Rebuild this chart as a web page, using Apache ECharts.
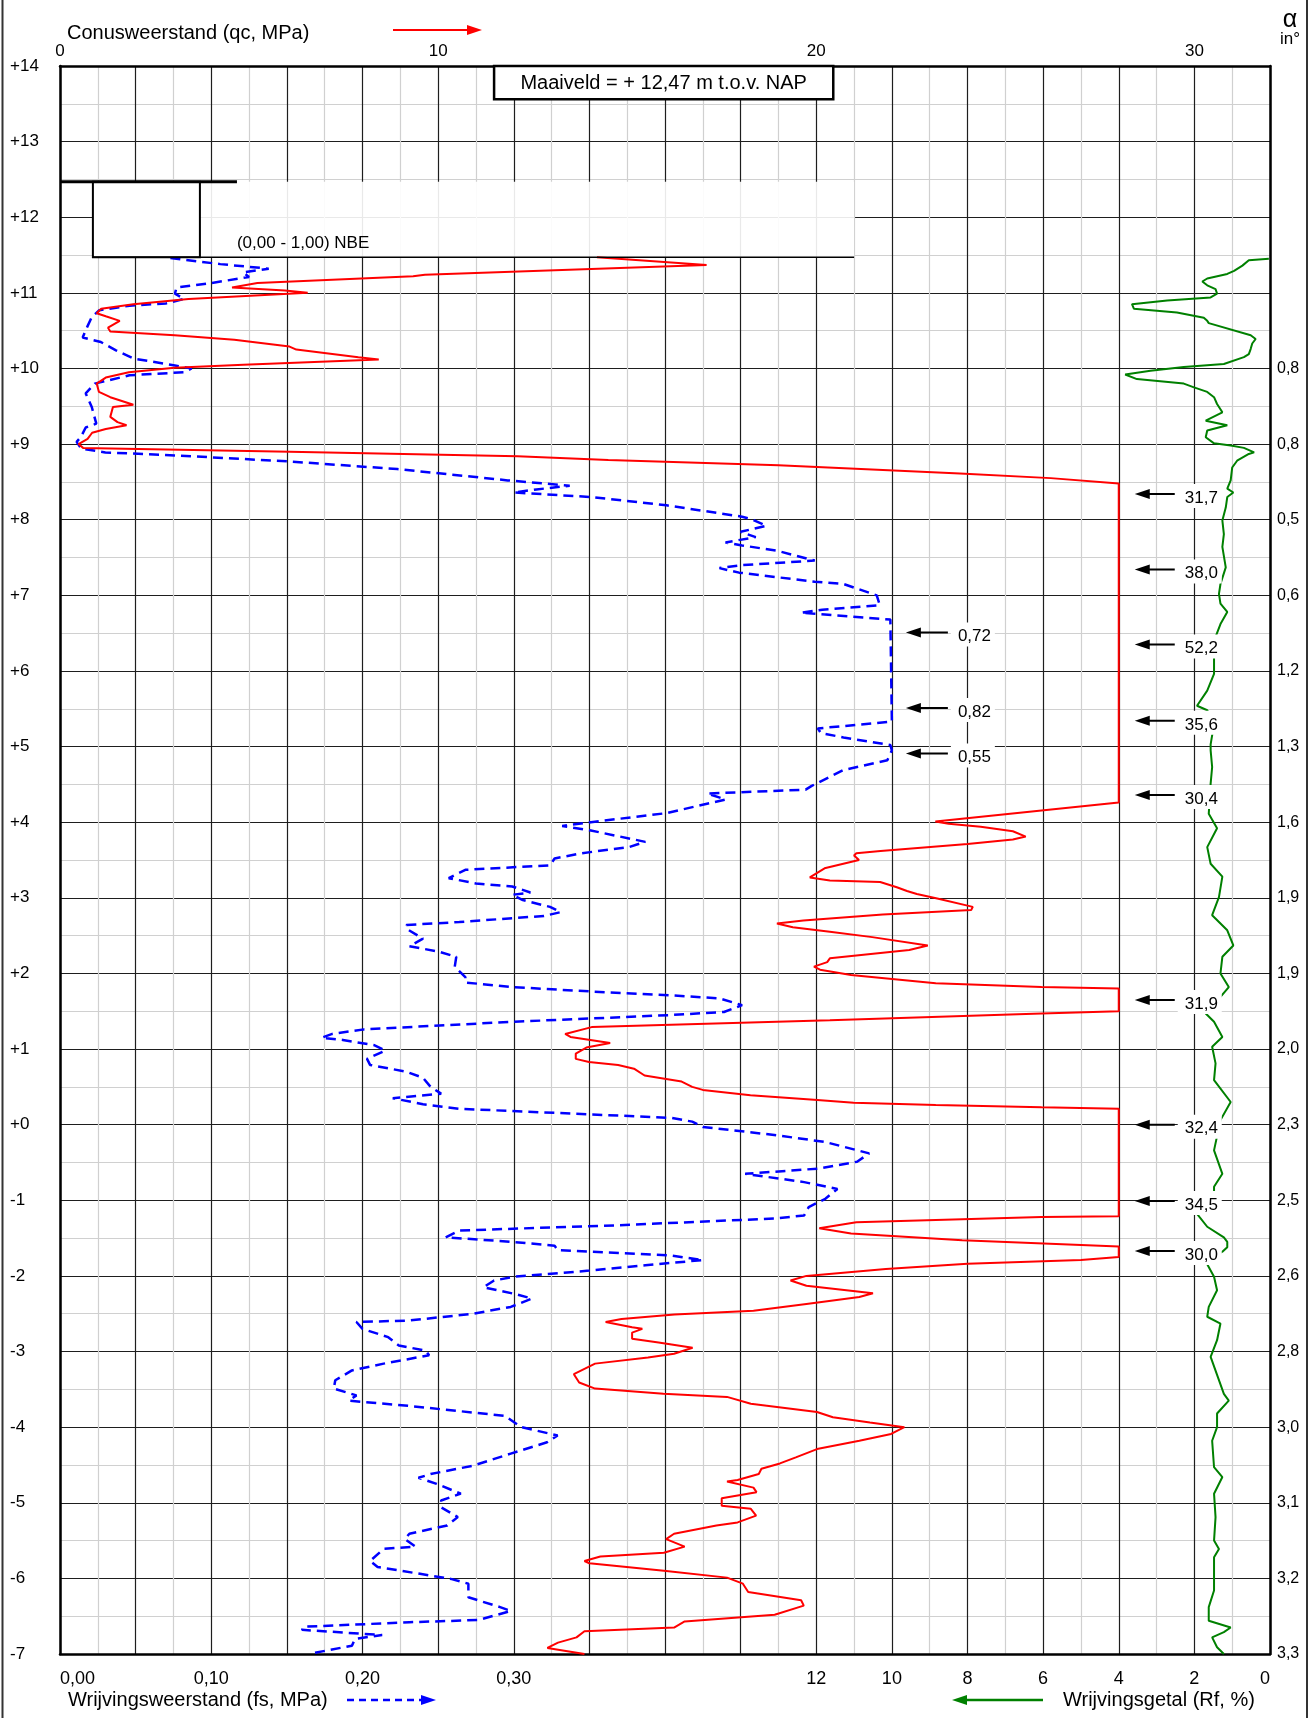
<!DOCTYPE html>
<html>
<head>
<meta charset="utf-8">
<title>Sondering</title>
<script src="https://cdn.jsdelivr.net/npm/echarts@6/dist/echarts.min.js"></script>
<style>
  html, body { margin: 0; padding: 0; background: #fff; }
  #chart { width: 1311px; height: 1718px; }
</style>
</head>
<body>
<div id="chart"></div>
<script>
// ---- Cone penetration test data: [value, elevation in m NAP] ----

// Cone resistance qc (MPa); values above 28 are drawn at the 28 MPa cap
const qcProfile = [
  [14.2,11.47],[17.1,11.37],[9.65,11.24],[9.34,11.22],[5.22,11.13],[4.55,11.07],[5.95,11.03],[6.55,11.0],
  [3.40,10.92],[1.94,10.85],[1.09,10.79],[0.97,10.73],[1.21,10.69],[1.58,10.63],[1.27,10.54],[1.33,10.49],
  [3.03,10.44],[4.61,10.38],[6.07,10.29],[6.25,10.25],[7.89,10.15],[8.43,10.12],[4.85,10.05],[3.03,10.01],
  [1.82,9.95],[1.21,9.88],[0.97,9.80],[1.03,9.69],[1.33,9.62],[1.94,9.52],[1.40,9.49],[1.33,9.36],
  [1.52,9.29],[1.76,9.25],[1.21,9.20],[0.85,9.15],[0.73,9.07],[0.49,9.00],[0.61,8.95],[6.07,8.90],
  [12.1,8.84],[14.5,8.79],[19.0,8.72],[23.8,8.61],[26.2,8.55],[28,8.48],[28,4.26],[23.15,4.01],
  [23.5,3.98],[24.35,3.94],[25.2,3.88],[25.54,3.81],[25.2,3.77],[24.0,3.71],[21.7,3.62],[21.06,3.59],
  [21.0,3.56],[21.13,3.50],[20.22,3.39],[19.83,3.27],[20.36,3.23],[21.69,3.21],[22.13,3.14],[22.4,3.09],
  [22.66,3.05],[23.2,2.99],[24.14,2.88],[24.1,2.84],[21.76,2.78],[19.66,2.70],[18.96,2.66],[19.38,2.61],
  [20.36,2.55],[21.48,2.48],[22.95,2.37],[22.46,2.31],[20.36,2.20],[20.29,2.15],[19.94,2.09],[20.1,2.05],
  [20.92,1.98],[23.16,1.87],[25.96,1.82],[28,1.80],[28,1.50],[25.96,1.47],[20.36,1.38],[14.06,1.29],
  [13.36,1.20],[13.5,1.16],[14.55,1.08],[13.92,1.02],[13.64,0.94],[13.64,0.87],[13.99,0.83],[14.76,0.79],
  [15.18,0.74],[15.46,0.65],[16.44,0.57],[16.72,0.50],[17.0,0.46],[18.26,0.39],[19.94,0.33],[20.99,0.29],
  [23.16,0.26],[25.96,0.23],[28,0.21],[28,-1.21],[25.96,-1.22],[21.06,-1.29],[20.08,-1.37],[20.92,-1.44],
  [23.86,-1.53],[28,-1.61],[28,-1.75],[27.0,-1.79],[24.0,-1.84],[21.84,-1.91],[19.74,-2.0],[19.32,-2.06],
  [19.74,-2.13],[21.5,-2.23],[21.14,-2.28],[19.74,-2.37],[18.34,-2.46],[16.25,-2.51],[14.85,-2.57],[14.43,-2.61],
  [15.13,-2.68],[15.40,-2.70],[15.13,-2.75],[15.13,-2.83],[15.83,-2.88],[16.73,-2.95],[16.24,-3.03],[15.55,-3.08],
  [14.15,-3.16],[13.59,-3.30],[13.73,-3.41],[14.15,-3.49],[15.96,-3.56],[17.64,-3.60],[18.27,-3.69],[20.02,-3.80],
  [20.44,-3.87],[21.42,-3.94],[22.33,-4.0],[21.98,-4.09],[21.14,-4.18],[20.02,-4.29],[19.46,-4.40],[19.04,-4.48],
  [18.55,-4.55],[18.48,-4.62],[17.92,-4.70],[17.64,-4.72],[18.34,-4.80],[18.42,-4.86],[17.50,-4.94],[17.50,-5.04],
  [18.27,-5.08],[18.41,-5.17],[17.92,-5.26],[17.36,-5.30],[16.24,-5.41],[16.03,-5.48],[16.52,-5.58],[15.97,-5.66],
  [14.29,-5.71],[13.87,-5.77],[14.0,-5.80],[15.97,-5.90],[17.64,-5.99],[18.06,-6.07],[18.20,-6.18],[19.60,-6.29],
  [19.67,-6.36],[18.90,-6.48],[16.52,-6.57],[16.24,-6.65],[13.87,-6.70],[13.66,-6.78],[13.17,-6.85],[12.89,-6.92],
  [13.87,-7.0]
];

// Sleeve friction fs (MPa); values above 0.55 are drawn at the 0.55 MPa cap
const fsProfile = [
  [0.073,11.46],[0.106,11.38],[0.138,11.32],[0.121,11.27],[0.125,11.21],[0.100,11.13],[0.077,11.07],[0.076,10.99],
  [0.082,10.92],[0.070,10.86],[0.046,10.83],[0.026,10.77],[0.021,10.68],[0.018,10.55],[0.015,10.41],[0.027,10.35],
  [0.037,10.24],[0.049,10.13],[0.076,10.04],[0.087,10.0],[0.082,9.95],[0.046,9.91],[0.023,9.80],[0.017,9.67],
  [0.021,9.49],[0.024,9.27],[0.017,9.22],[0.014,9.10],[0.011,9.03],[0.014,8.94],[0.030,8.89],[0.076,8.85],
  [0.152,8.77],[0.223,8.67],[0.296,8.52],[0.337,8.45],[0.315,8.40],[0.300,8.36],[0.351,8.30],[0.401,8.19],
  [0.451,8.04],[0.458,8.0],[0.467,7.92],[0.450,7.84],[0.460,7.77],[0.440,7.70],[0.451,7.66],[0.474,7.59],
  [0.499,7.46],[0.451,7.40],[0.436,7.36],[0.449,7.30],[0.499,7.18],[0.518,7.15],[0.540,7.0],[0.542,6.87],
  [0.504,6.81],[0.490,6.77],[0.549,6.68],[0.550,6.68],[0.550,5.33],[0.501,5.24],[0.503,5.18],[0.518,5.12],
  [0.549,5.02],[0.550,4.95],[0.547,4.82],[0.518,4.69],[0.507,4.58],[0.497,4.48],[0.493,4.43],[0.428,4.38],
  [0.440,4.30],[0.401,4.12],[0.351,4.0],[0.332,3.95],[0.351,3.89],[0.387,3.74],[0.376,3.67],[0.345,3.59],
  [0.327,3.52],[0.324,3.43],[0.268,3.37],[0.257,3.26],[0.275,3.19],[0.299,3.15],[0.311,3.07],[0.299,3.04],
  [0.306,2.97],[0.324,2.88],[0.331,2.81],[0.320,2.76],[0.264,2.68],[0.229,2.64],[0.230,2.58],[0.240,2.46],
  [0.231,2.36],[0.250,2.29],[0.262,2.22],[0.261,2.09],[0.268,1.95],[0.268,1.88],[0.299,1.82],[0.352,1.76],
  [0.404,1.71],[0.436,1.67],[0.451,1.58],[0.439,1.49],[0.404,1.45],[0.299,1.36],[0.201,1.26],[0.180,1.20],
  [0.173,1.15],[0.187,1.12],[0.208,1.05],[0.215,0.98],[0.203,0.87],[0.205,0.79],[0.229,0.70],[0.240,0.62],
  [0.245,0.50],[0.252,0.41],[0.220,0.35],[0.240,0.27],[0.264,0.21],[0.334,0.15],[0.404,0.09],[0.418,0.04],
  [0.425,-0.03],[0.474,-0.14],[0.506,-0.23],[0.535,-0.38],[0.527,-0.49],[0.502,-0.58],[0.453,-0.65],[0.492,-0.76],
  [0.514,-0.85],[0.506,-0.98],[0.495,-1.09],[0.492,-1.20],[0.474,-1.24],[0.369,-1.33],[0.264,-1.40],[0.255,-1.49],
  [0.299,-1.55],[0.327,-1.60],[0.329,-1.66],[0.404,-1.73],[0.425,-1.79],[0.387,-1.86],[0.350,-1.93],[0.301,-2.01],
  [0.287,-2.06],[0.280,-2.15],[0.301,-2.24],[0.312,-2.30],[0.298,-2.41],[0.273,-2.50],[0.231,-2.59],[0.196,-2.61],
  [0.200,-2.70],[0.217,-2.81],[0.224,-2.92],[0.242,-2.99],[0.244,-3.05],[0.214,-3.16],[0.193,-3.25],[0.182,-3.38],
  [0.181,-3.49],[0.196,-3.58],[0.191,-3.65],[0.231,-3.72],[0.294,-3.85],[0.305,-4.0],[0.329,-4.11],[0.322,-4.20],
  [0.298,-4.35],[0.273,-4.51],[0.245,-4.62],[0.237,-4.67],[0.249,-4.75],[0.265,-4.88],[0.252,-4.97],[0.252,-5.06],
  [0.263,-5.19],[0.256,-5.30],[0.231,-5.41],[0.228,-5.48],[0.235,-5.58],[0.214,-5.61],[0.205,-5.77],[0.210,-5.85],
  [0.238,-5.94],[0.259,-6.01],[0.270,-6.07],[0.270,-6.25],[0.291,-6.38],[0.298,-6.43],[0.277,-6.55],[0.231,-6.58],
  [0.161,-6.64],[0.160,-6.68],[0.213,-6.75],[0.195,-6.80],[0.193,-6.89],[0.167,-6.99]
];

// Friction ratio Rf (%)
const rfProfile = [
  [0.03,11.45],[0.56,11.43],[0.73,11.36],[0.95,11.29],[1.13,11.25],[1.66,11.19],[1.79,11.15],[1.66,11.10],
  [1.44,11.05],[1.40,10.99],[1.57,10.94],[2.72,10.90],[3.65,10.85],[3.60,10.79],[2.46,10.74],[1.75,10.67],
  [1.66,10.63],[1.62,10.60],[0.51,10.44],[0.38,10.39],[0.47,10.33],[0.51,10.26],[0.56,10.19],[0.69,10.15],
  [1.22,10.06],[2.28,10.02],[3.16,9.97],[3.83,9.92],[3.52,9.86],[2.28,9.80],[2.01,9.75],[1.66,9.69],
  [1.48,9.62],[1.40,9.53],[1.26,9.42],[1.70,9.31],[1.13,9.25],[1.66,9.18],[1.70,9.09],[1.48,9.01],
  [1.04,8.98],[0.69,8.95],[0.42,8.89],[0.56,8.87],[0.87,8.78],[1.0,8.69],[1.04,8.52],[1.13,8.41],
  [0.97,8.36],[1.13,8.30],[1.17,8.16],[1.26,7.99],[1.22,7.81],[1.26,7.64],[1.17,7.37],[1.31,7.15],
  [1.35,7.02],[1.31,6.89],[1.13,6.78],[1.31,6.62],[1.44,6.45],[1.48,6.18],[1.48,5.96],[1.66,5.74],
  [1.93,5.54],[1.66,5.48],[1.48,5.30],[1.57,5.03],[1.57,4.95],[1.53,4.73],[1.57,4.51],[1.62,4.11],
  [1.40,3.92],[1.66,3.67],[1.57,3.45],[1.26,3.28],[1.35,3.01],[1.53,2.77],[1.13,2.57],[0.97,2.37],
  [1.26,2.22],[1.31,2.0],[1.09,1.82],[1.31,1.69],[1.70,1.47],[1.48,1.36],[1.26,1.16],[1.53,1.03],
  [1.44,0.81],[1.48,0.59],[1.04,0.30],[1.31,0.06],[1.48,-0.34],[1.26,-0.65],[1.48,-0.82],[1.48,-1.04],
  [1.93,-1.18],[1.66,-1.35],[1.22,-1.49],[1.13,-1.55],[1.13,-1.62],[1.26,-1.68],[1.70,-1.81],[1.48,-2.01],
  [1.40,-2.19],[1.62,-2.41],[1.66,-2.54],[1.31,-2.63],[1.40,-2.85],[1.57,-3.07],[1.22,-3.56],[1.09,-3.65],
  [1.40,-3.82],[1.40,-4.0],[1.53,-4.18],[1.48,-4.53],[1.26,-4.66],[1.48,-4.88],[1.44,-5.19],[1.48,-5.50],
  [1.35,-5.61],[1.48,-5.72],[1.48,-6.16],[1.62,-6.38],[1.62,-6.56],[1.04,-6.65],[1.22,-6.71],[1.53,-6.78],
  [1.40,-6.91],[1.22,-7.0]
];

// Peak values beyond the drawing caps, with the level they belong to
const qcCap = 28;
const qcPeakTexts  = ['31,7', '38,0', '52,2', '35,6', '30,4', '31,9', '32,4', '34,5', '30,0'];
const qcPeakLevels = [8.34, 7.34, 6.35, 5.34, 4.36, 1.65, 0.0, -1.01, -1.67];
const fsCap = 0.55;
const fsPeakTexts  = ['0,72', '0,82', '0,55'];
const fsPeakLevels = [6.51, 5.51, 4.91];

// Tick labels
const qcTickValues = [0, 10, 20, 30];
const qcTickLabels = ['0', '10', '20', '30'];
const fsTickValues = [0, 0.1, 0.2, 0.3];
const fsTickLabels = ['0,00', '0,10', '0,20', '0,30'];
const rfTickValues = [0, 2, 4, 6, 8, 10, 12];
const rfTickLabels = ['0', '2', '4', '6', '8', '10', '12'];
const levelTickValues = [14, 13, 12, 11, 10, 9, 8, 7, 6, 5, 4, 3, 2, 1, 0, -1, -2, -3, -4, -5, -6, -7];
const levelTickLabels = ['+14', '+13', '+12', '+11', '+10', '+9', '+8', '+7', '+6', '+5', '+4', '+3', '+2', '+1',
                         '+0', '-1', '-2', '-3', '-4', '-5', '-6', '-7'];
// Cone inclination (degrees) per metre
const alphaLevels = [10, 9, 8, 7, 6, 5, 4, 3, 2, 1, 0, -1, -2, -3, -4, -5, -6, -7];
const alphaLabels = ['0,8', '0,8', '0,5', '0,6', '1,2', '1,3', '1,6', '1,9', '1,9', '2,0', '2,3', '2,5',
                     '2,6', '2,8', '3,0', '3,1', '3,2', '3,3'];

// Ground level and top layer
const surfaceLevel = 12.47;
const layerBottom = 11.47;
const layerText = '(0,00 - 1,00) NBE';
const surfaceText = 'Maaiveld = + 12,47 m t.o.v. NAP';

// ---- drawing ----
const FONT = '"Liberation Sans", Arial, Helvetica, sans-serif';
const MAJOR = '#1e1e1e';
const MINOR = '#d0d0d0';

function pick(values, labels, v) {
  const i = values.findIndex(t => Math.abs(t - v) < 1e-6);
  return i < 0 ? '' : labels[i];
}

function arrowLabel(texts, offset, len) {
  return function (params, api) {
    const p = api.coord([api.value(0), api.value(1)]);
    const tip = p[0] + offset;
    const y = p[1];
    const tail = tip + len;
    return {
      type: 'group',
      children: [
        { type: 'rect', shape: { x: tail + 3, y: y - 10, width: 44, height: 24 }, style: { fill: '#fff' } },
        { type: 'line', shape: { x1: tip + 8, y1: y, x2: tail, y2: y }, style: { stroke: '#000', lineWidth: 2 } },
        { type: 'polygon', shape: { points: [[tip, y], [tip + 15, y - 5], [tip + 15, y + 5]] }, style: { fill: '#000' } },
        { type: 'text', x: tail + 10, y: y + 4,
          style: { text: texts[params.dataIndex], font: '17px ' + FONT, fill: '#000',
                   verticalAlign: 'middle', textVerticalAlign: 'middle' } }
      ]
    };
  };
}

const xBase = {
  type: 'value',
  axisTick: { show: false },
  splitLine: { show: false }
};

const option = {
  animation: false,
  backgroundColor: '#fff',
  textStyle: { fontFamily: FONT },
  grid: { left: 60, top: 66, width: 1210, height: 1588, containLabel: false },
  xAxis: [
    Object.assign({}, xBase, {
      position: 'top', min: 0, max: 32, interval: 2,
      axisLine: { show: true, onZero: false, lineStyle: { color: '#000', width: 2.5 } },
      axisLabel: { fontSize: 17, color: '#000', margin: 6, fontFamily: FONT,
                   formatter: v => pick(qcTickValues, qcTickLabels, v) },
      splitLine: { show: true, lineStyle: { color: MAJOR, width: 1.2 } },
      minorTick: { show: false, splitNumber: 2 },
      minorSplitLine: { show: true, lineStyle: { color: MINOR, width: 1.2 } }
    }),
    Object.assign({}, xBase, {
      position: 'bottom', min: 0, max: 0.8, interval: 0.1,
      axisLine: { show: true, onZero: false, lineStyle: { color: '#000', width: 2.5 } },
      axisLabel: { fontSize: 18, color: '#000', margin: 16, fontFamily: FONT, alignMinLabel: 'left',
                   formatter: v => pick(fsTickValues, fsTickLabels, v) }
    }),
    Object.assign({}, xBase, {
      position: 'bottom', min: 0, max: 32, interval: 2, inverse: true,
      axisLine: { show: false, onZero: false },
      axisLabel: { fontSize: 18, color: '#000', margin: 16, fontFamily: FONT, alignMinLabel: 'right',
                   formatter: v => pick(rfTickValues, rfTickLabels, v) }
    })
  ],
  yAxis: [
    {
      type: 'value', position: 'left', min: -7, max: 14, interval: 1,
      axisLine: { show: true, onZero: false, lineStyle: { color: '#000', width: 2.5 } },
      axisTick: { show: false },
      axisLabel: { fontSize: 17, color: '#000', margin: 50, align: 'left', fontFamily: FONT,
                   formatter: v => pick(levelTickValues, levelTickLabels, v) },
      splitLine: { show: true, lineStyle: { color: MAJOR, width: 1.2 } },
      minorTick: { show: false, splitNumber: 2 },
      minorSplitLine: { show: true, lineStyle: { color: MINOR, width: 1.2 } }
    },
    {
      type: 'value', position: 'right', min: -7, max: 14, interval: 1,
      axisLine: { show: true, onZero: false, lineStyle: { color: '#000', width: 2.5 } },
      axisTick: { show: false },
      axisLabel: { fontSize: 16, color: '#000', margin: 7, align: 'left', fontFamily: FONT,
                   formatter: v => pick(alphaLevels, alphaLabels, v) },
      splitLine: { show: false }
    }
  ],
  series: [
    { name: 'Rf', type: 'line', xAxisIndex: 2, yAxisIndex: 0, data: rfProfile, symbol: 'none',
      lineStyle: { color: '#008000', width: 2 }, z: 3, silent: true },
    { name: 'fs', type: 'line', xAxisIndex: 1, yAxisIndex: 0, data: fsProfile, symbol: 'none',
      lineStyle: { color: '#0000ff', width: 2.5, type: [10, 6] }, z: 3, silent: true },
    { name: 'qc', type: 'line', xAxisIndex: 0, yAxisIndex: 0, data: qcProfile, symbol: 'none',
      lineStyle: { color: '#ff0000', width: 2 }, z: 4, silent: true },
    { name: 'qc peaks', type: 'custom', xAxisIndex: 0, yAxisIndex: 0, z: 6, silent: true,
      data: qcPeakLevels.map(z => [qcCap, z]), renderItem: arrowLabel(qcPeakTexts, 16, 40) },
    { name: 'fs peaks', type: 'custom', xAxisIndex: 1, yAxisIndex: 0, z: 6, silent: true,
      data: fsPeakLevels.map(z => [fsCap, z]), renderItem: arrowLabel(fsPeakTexts, 14, 42) }
  ]
};

const chart = echarts.init(document.getElementById('chart'), null, { renderer: 'canvas' });
chart.setOption(option);

const px = (qc, z) => chart.convertToPixel({ xAxisIndex: 0, yAxisIndex: 0 }, [qc, z]);

// Top layer box below ground level
const a = px(0, surfaceLevel), b = px(4.68, surfaceLevel);
const boxL = px(0.87, surfaceLevel), boxR = px(3.70, layerBottom);
const veilR = px(21.0, layerBottom);
const layerLabel = px(4.68, 11.65);
// Ground level caption box
const capL = px(11.48, 14), capR = px(20.45, 13.56);

function txt(x, y, text, size, align) {
  return { type: 'text', x: x, y: y, z: 10,
           style: { text: text, font: size + 'px ' + FONT, fill: '#000',
                    align: align || 'left', textAlign: align || 'left',
                    verticalAlign: 'middle', textVerticalAlign: 'middle' } };
}

chart.setOption({
  graphic: [
    // frame edges
    { type: 'line', z: 10, shape: { x1: 2.5, y1: 0, x2: 2.5, y2: 1718 }, style: { stroke: '#333', lineWidth: 2 } },
    { type: 'line', z: 10, shape: { x1: 1307, y1: 0, x2: 1307, y2: 1718 }, style: { stroke: '#333', lineWidth: 2 } },
    // softened grid behind the layer description
    { type: 'rect', z: 1, shape: { x: boxR[0], y: boxL[1], width: veilR[0] - boxR[0], height: veilR[1] - boxL[1] },
      style: { fill: 'rgba(255,255,255,0.9)' } },
    { type: 'rect', z: 5, shape: { x: boxL[0], y: boxL[1], width: boxR[0] - boxL[0], height: boxR[1] - boxL[1] },
      style: { fill: '#fff', stroke: '#000', lineWidth: 2 } },
    { type: 'line', z: 5, shape: { x1: boxL[0], y1: veilR[1], x2: veilR[0], y2: veilR[1] }, style: { stroke: '#000', lineWidth: 1.5 } },
    { type: 'line', z: 5, shape: { x1: a[0], y1: a[1], x2: b[0], y2: b[1] }, style: { stroke: '#000', lineWidth: 3 } },
    txt(layerLabel[0], layerLabel[1], layerText, 17),
    // ground level caption
    { type: 'rect', z: 5, shape: { x: capL[0], y: capL[1], width: capR[0] - capL[0], height: capR[1] - capL[1] },
      style: { fill: '#fff', stroke: '#000', lineWidth: 2.5 } },
    txt((capL[0] + capR[0]) / 2, (capL[1] + capR[1]) / 2 + 1, surfaceText, 20, 'center'),
    // qc title with arrow
    txt(67, 33, 'Conusweerstand (qc, MPa)', 20),
    { type: 'line', z: 10, shape: { x1: 393, y1: 30, x2: 470, y2: 30 }, style: { stroke: '#ff0000', lineWidth: 2 } },
    { type: 'polygon', z: 10, shape: { points: [[482, 30], [467, 25], [467, 35]] }, style: { fill: '#ff0000' } },
    // inclination header
    txt(1290, 20, 'α', 25, 'center'),
    txt(1290, 39, 'in°', 17, 'center'),
    // fs legend
    txt(68, 1700, 'Wrijvingsweerstand (fs, MPa)', 20),
    { type: 'line', z: 10, shape: { x1: 347, y1: 1700, x2: 424, y2: 1700 },
      style: { stroke: '#0000ff', lineWidth: 2.5, lineDash: [7, 5] } },
    { type: 'polygon', z: 10, shape: { points: [[436, 1700], [421, 1695], [421, 1705]] }, style: { fill: '#0000ff' } },
    // Rf legend
    { type: 'line', z: 10, shape: { x1: 965, y1: 1700, x2: 1043, y2: 1700 }, style: { stroke: '#008000', lineWidth: 2.5 } },
    { type: 'polygon', z: 10, shape: { points: [[952, 1700], [967, 1695], [967, 1705]] }, style: { fill: '#008000' } },
    txt(1063, 1700, 'Wrijvingsgetal (Rf, %)', 20)
  ]
});
</script>
</body>
</html>
